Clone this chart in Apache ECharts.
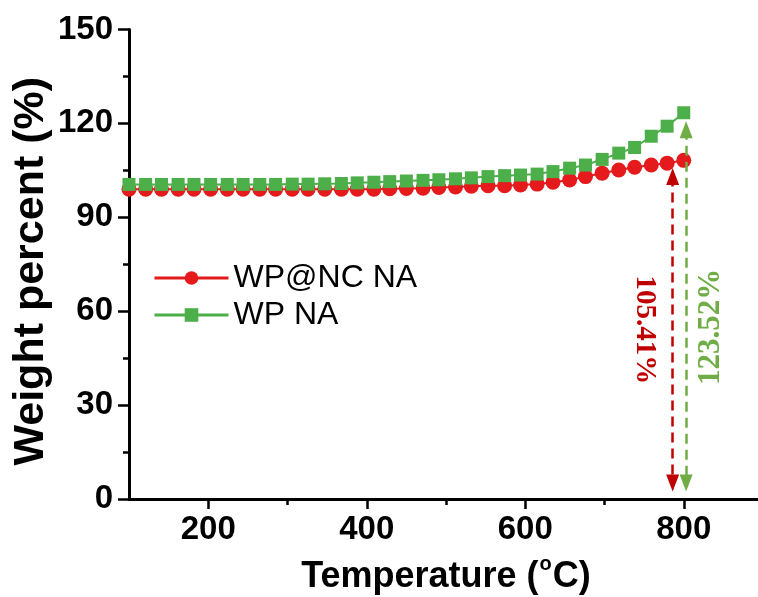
<!DOCTYPE html>
<html><head><meta charset="utf-8">
<script src="https://cdn.jsdelivr.net/npm/echarts@6/dist/echarts.min.js"></script>
<style>html,body{margin:0;padding:0;background:#fff}#c{width:758px;height:597px}</style>
</head><body><div id="c"></div>
<script>
// ---- data ----
const temperature = [100,121,141,162,182,203,224,244,265,285,306,326,347,368,388,409,429,450,471,491,512,532,553,574,594,615,635,656,676,697,718,738,759,779,800];
const wpncNA = [99.0,99.0,99.0,99.0,99.0,99.0,99.0,99.0,99.0,99.0,99.0,99.0,99.0,99.0,99.0,99.0,99.1,99.2,99.3,99.5,99.7,99.9,100.1,100.1,100.3,100.6,101.2,101.9,103.0,104.1,105.1,106.0,106.7,107.3,108.2];
const wpNA = [100.5,100.5,100.5,100.5,100.5,100.5,100.5,100.5,100.5,100.5,100.6,100.6,100.7,100.8,101.0,101.2,101.4,101.6,101.8,102.0,102.3,102.6,103.0,103.3,103.5,103.8,104.6,105.7,106.7,108.5,110.5,112.3,115.9,119.1,123.4];
const seriesNames = ['WP@NC NA','WP NA'];
const xTickValues = [200,400,600,800];
const xMinorTickValues = [300,500,700];
const xRange = [100,900];
const yRange = [0,150];
const yInterval = 30;
// annotations: vertical double arrows and rotated labels
const redArrowX = 786, redArrowFrom = 103.0, redArrowTo = 5.1;
const greenArrowX = 803, greenArrowFrom = 118.0, greenArrowTo = 5.1;
const redLabel = '105.41%', redLabelAt = [751, 54];
const greenLabel = '123.52%', greenLabelAt = [834, 55];

const RED = '#e41a1c', GREEN = '#4daf4a', DRED = '#c00000', DGREEN = '#70ad47';
const SANS = 'Liberation Sans, Arial, Helvetica, sans-serif';
const SERIF = 'Liberation Serif, Times New Roman, serif';

function arrow(x, y0, y1, color) {
  return {
    silent: true, animation: false,
    symbol: ['triangle','triangle'], symbolSize: [13,17],
    lineStyle: {color: color, type: [10,6], width: 2.5},
    label: {show: false},
    emphasis: {disabled: true},
    data: [[{coord: [x, y0]}, {coord: [x, y1]}]]
  };
}
function tag(pos, text, color, rot, size) {
  return {
    silent: true, animation: false,
    symbol: 'circle', symbolSize: 0,
    label: {show: true, position: 'inside', formatter: text, rotate: rot,
      color: color, fontFamily: SERIF, fontWeight: 'bold', fontSize: size},
    data: [{coord: pos}]
  };
}

const chart = echarts.init(document.getElementById('c'), null, {renderer: 'canvas'});
chart.setOption({
  animation: false,
  backgroundColor: '#fff',
  grid: {left: 129, right: -5, top: 29.5, bottom: 98, containLabel: false, outerBoundsMode: 'none'},
  legend: {
    orient: 'vertical', left: 148, top: 257,
    itemWidth: 74, itemHeight: 17, itemGap: 5,
    data: seriesNames,
    lineStyle: {width: 3},
    textStyle: {fontFamily: SANS, fontSize: 32, color: '#000', lineHeight: 32}
  },
  xAxis: [{
    type: 'value', min: xRange[0], max: xRange[1], position: 'bottom',
    name: 'Temperature ({sup|o}C)', nameLocation: 'middle', nameGap: 55,
    nameTextStyle: {fontFamily: SANS, fontWeight: 'bold', fontSize: 36, color: '#000',
      rich: {sup: {fontFamily: SANS, fontWeight: 'bold', fontSize: 20, color: '#000', verticalAlign: 'top', padding: [0,1,26,1]}}},
    axisLine: {show: true, lineStyle: {color: '#000', width: 3}},
    axisTick: {show: true, customValues: xTickValues, length: 10, lineStyle: {color: '#000', width: 2.5}},
    axisLabel: {customValues: xTickValues, margin: 14, fontFamily: SANS, fontWeight: 'bold', fontSize: 33, color: '#000'},
    splitLine: {show: false}
  }, {
    type: 'value', min: xRange[0], max: xRange[1], position: 'bottom', gridIndex: 0,
    axisLine: {show: false},
    axisTick: {show: true, customValues: xMinorTickValues, length: 6, lineStyle: {color: '#000', width: 2.5}},
    axisLabel: {show: false},
    splitLine: {show: false}
  }],
  yAxis: {
    type: 'value', min: yRange[0], max: yRange[1], interval: yInterval,
    name: 'Weight percent (%)', nameLocation: 'middle', nameGap: 76, nameMoveOverlap: false,
    nameTextStyle: {fontFamily: SANS, fontWeight: 'bold', fontSize: 43, color: '#000', padding: [0, 14, 0, 0]},
    axisLine: {show: true, lineStyle: {color: '#000', width: 3}},
    axisTick: {show: true, length: 11, lineStyle: {color: '#000', width: 2.5}},
    minorTick: {show: true, splitNumber: 2, length: 6, lineStyle: {color: '#000', width: 2.5}},
    axisLabel: {margin: 16, fontFamily: SANS, fontWeight: 'bold', fontSize: 33, color: '#000'},
    splitLine: {show: false}, minorSplitLine: {show: false}
  },
  series: [{
    name: seriesNames[0], type: 'line',
    data: temperature.map((t, i) => [t, wpncNA[i]]),
    symbol: 'circle', symbolSize: 15,
    itemStyle: {color: RED}, lineStyle: {color: RED, width: 2},
    markLine: arrow(redArrowX, redArrowFrom, redArrowTo, DRED),
    markPoint: tag(redLabelAt, redLabel, DRED, -90, 29),
    z: 2
  }, {
    name: seriesNames[1], type: 'line',
    data: temperature.map((t, i) => [t, wpNA[i]]),
    symbol: 'rect', symbolSize: 13,
    itemStyle: {color: GREEN}, lineStyle: {color: GREEN, width: 2},
    markLine: arrow(greenArrowX, greenArrowFrom, greenArrowTo, DGREEN),
    markPoint: tag(greenLabelAt, greenLabel, DGREEN, 90, 31),
    z: 3
  }]
});
</script></body></html>
